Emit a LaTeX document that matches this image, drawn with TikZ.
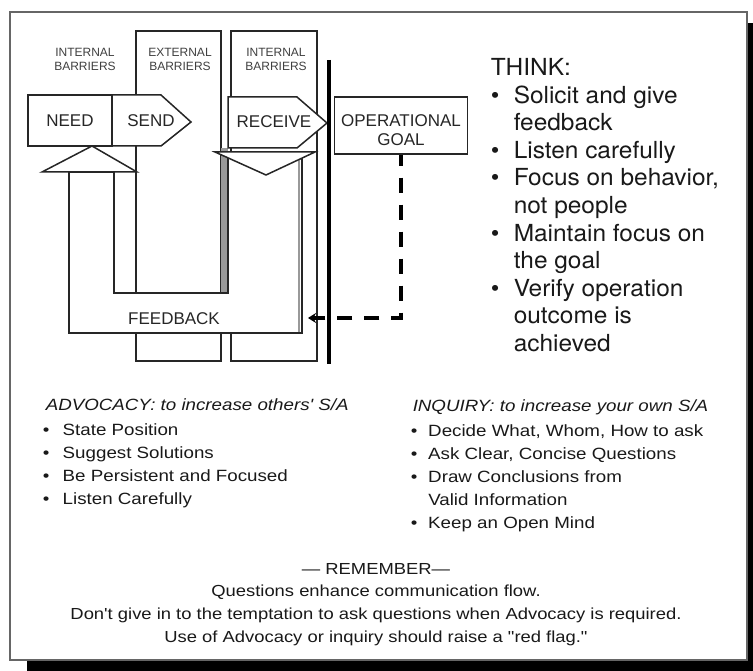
\documentclass[tikz,border=0pt]{standalone}
\usepackage{fontspec}
\setmainfont{Liberation Sans}
\newfontfamily\widesans{Liberation Sans}[FakeStretch=1.15]
\newfontfamily\thinksans{TeX Gyre Heros}[FakeStretch=1.04]
\usetikzlibrary{arrows.meta,positioning}

\begin{document}
\begin{tikzpicture}[x=1pt,y=-1pt,line width=1.5pt,
    part/.style={draw=black!85,fill=white},
    barlabel/.style={font=\fontsize{12}{14}\selectfont,text=black!75,align=center},
    boxtext/.style={font=\fontsize{17}{19}\selectfont,text=black!85,align=center},
    bulletlist/.style={anchor=base west,inner sep=0pt,text=black!90},
    goalflow/.style={draw=black,line width=3.5pt,dash pattern=on 15pt off 12pt,
                     dash phase=4pt,-{Stealth[length=8pt,width=10pt]}}]

  \useasboundingbox (0,0) rectangle (753,671);
  \clip (0,0) rectangle (753,671);

  % card with its shadow
  \fill[black] (27,23) rectangle (770,690);
  \draw[black!60,fill=white,line width=2pt] (10,12) rectangle (747,660);

  % barrier columns
  \draw[part] (136,31) rectangle (221,361);
  \draw[part] (231,31) rectangle (317,361);
  \fill[black!40] (221,148) rectangle (228,293);

  % feedback loop
  \draw[part] (69,172) -- (69,333) -- (302,333) -- (302,152) -- (228,152)
              -- (228,293) -- (114,293) -- (114,172) -- cycle;
  \draw[black!40] (299,160) -- (299,332);
  \node[boxtext] (feedback) at (174,319) {FEEDBACK};
  \draw[part] (42,172) -- (137,172) -- (92,146) -- cycle;
  \draw[part] (215,152) -- (315,152) -- (266,175) -- cycle;

  % need, send, receive
  \draw[part] (28,95) rectangle (112,146);
  \draw[part] (112,95) -- (161,95) -- (191,122) -- (161,146) -- (112,146) -- cycle;
  \draw[part] (228,97) -- (297,97) -- (327,123) -- (297,148) -- (228,148) -- cycle;
  \node[boxtext] (need) at (70,121) {NEED};
  \node[boxtext] (send) at (151,121) {SEND};
  \node[boxtext] (receive) at (274,122) {RECEIVE};

  \node[barlabel] (inner1) at (85,59) {INTERNAL\\BARRIERS};
  \node[barlabel] (outer) at (180,59) {EXTERNAL\\BARRIERS};
  \node[barlabel] (inner2) at (276,59) {INTERNAL\\BARRIERS};

  \draw[line width=4pt] (329,60) -- (329,364);

  % goal and its dashed return
  \node[part,minimum width=133pt,minimum height=57pt] (goal) at (401,125.5) {};
  \node[boxtext] (goaltext) at (401,130.5) {OPERATIONAL\\GOAL};
  \coordinate (fbtip) at (308,318);
  \draw[goalflow] (goal.south) |- (fbtip);

  \node[bulletlist,font=\thinksans\fontsize{23.5}{27.6}\selectfont] (think) at (490,75.5)
    {\begin{tabular}[t]{@{}p{23pt}@{}l@{}}
      \multicolumn{2}{@{}l@{}}{THINK:}\\
      \textbullet & Solicit and give\\
                  & feedback\\
      \textbullet & Listen carefully\\
      \textbullet & Focus on behavior,\\
                  & not people\\
      \textbullet & Maintain focus on\\
                  & the goal\\
      \textbullet & Verify operation\\
                  & outcome is\\
                  & achieved
    \end{tabular}};

  \node[bulletlist,font=\widesans\fontsize{16.3}{23}\selectfont] (advocacy) at (42,410)
    {\begin{tabular}[t]{@{}p{20pt}@{}l@{}}
      \multicolumn{2}{@{}l@{}}{\hspace*{3pt}\itshape ADVOCACY: to increase others' S/A}\\[2pt]
      \textbullet & State Position\\
      \textbullet & Suggest Solutions\\
      \textbullet & Be Persistent and Focused\\
      \textbullet & Listen Carefully
    \end{tabular}};

  \node[bulletlist,font=\widesans\fontsize{16.3}{23}\selectfont] (inquiry) at (410,411)
    {\begin{tabular}[t]{@{}p{17.5pt}@{}l@{}}
      \multicolumn{2}{@{}l@{}}{\hspace*{2pt}\itshape INQUIRY: to increase your own S/A}\\[2pt]
      \textbullet & Decide What, Whom, How to ask\\
      \textbullet & Ask Clear, Concise Questions\\
      \textbullet & Draw Conclusions from\\
                  & Valid Information\\
      \textbullet & Keep an Open Mind
    \end{tabular}};

  \node[anchor=base,inner sep=0pt,text=black!90,font=\widesans\fontsize{16}{22.7}\selectfont]
    (remember) at (376,574)
    {\begin{tabular}[t]{@{}c@{}}
      — REMEMBER—\\
      Questions enhance communication flow.\\
      Don't give in to the temptation to ask questions when Advocacy is required.\\
      Use of Advocacy or inquiry should raise a "red flag."
    \end{tabular}};
\end{tikzpicture}
\end{document}
